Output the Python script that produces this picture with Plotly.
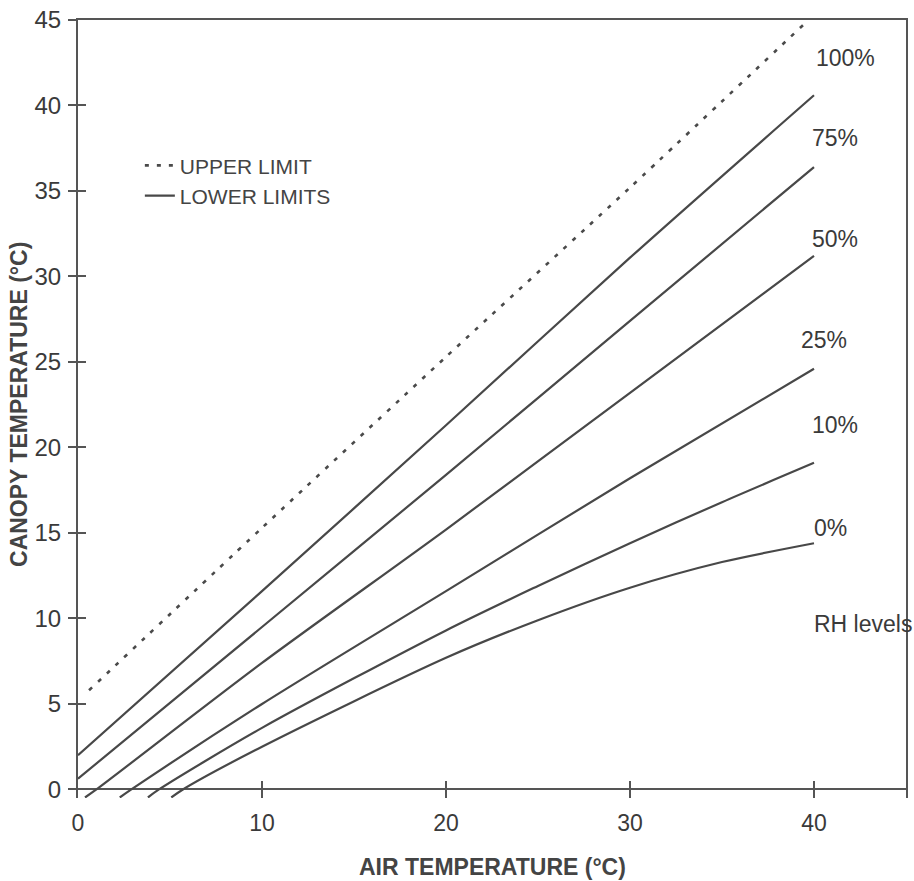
import plotly.graph_objects as go

# ---------------- data ----------------
upper_ta = [0.6, 10, 20, 30, 39.7]
upper_tc = [5.8, 15.3, 25.3, 35.2, 45.0]

ta_rh100 = [0, 10, 20, 30, 40]
tc_rh100 = [2.0, 11.6, 21.3, 31.1, 40.6]

ta_rh75 = [0, 10, 20, 30, 40]
tc_rh75 = [0.63, 9.5, 18.4, 27.4, 36.4]

ta_rh50 = [0.38, 1.0, 10, 20, 30, 40]
tc_rh50 = [-0.47, 0.0, 7.4, 15.2, 23.2, 31.2]

ta_rh25 = [2.27, 2.9, 10, 20, 30, 40]
tc_rh25 = [-0.47, 0.0, 5.0, 11.6, 18.2, 24.6]

ta_rh10 = [3.8, 4.4, 10, 20, 25, 30, 35, 40]
tc_rh10 = [-0.47, 0.0, 3.6, 9.3, 11.9, 14.4, 16.8, 19.1]

ta_rh0 = [5.07, 5.7, 10, 20, 25, 30, 35, 40]
tc_rh0 = [-0.47, 0.0, 2.5, 7.7, 9.9, 11.8, 13.3, 14.4]

rh_labels = ["100%", "75%", "50%", "25%", "10%", "0%", "RH levels"]
x_ticks = [0, 10, 20, 30, 40]
y_ticks = [0, 5, 10, 15, 20, 25, 30, 35, 40, 45]

# label anchor positions (data coordinates), kept apart from the data
label_x = [40.0, 39.8, 39.8, 39.2, 39.8, 39.9, 39.9]
label_y = [42.8, 38.1, 32.2, 26.3, 21.3, 15.3, 9.7]

# ---------------- style ----------------
FONT = "Liberation Sans, Arial, Helvetica, sans-serif"
INK = "#3a3a3a"
LINE = "#484848"
AXIS = "#555555"

fig = go.Figure()

fig.add_trace(go.Scatter(
    x=upper_ta, y=upper_tc, mode="lines", name="UPPER LIMIT",
    legendgroup="upper",
    line=dict(color="#4a4a4a", width=2.6, dash="4px,8px", shape="spline", smoothing=0.6),
))

lower_series = [
    (ta_rh100, tc_rh100), (ta_rh75, tc_rh75), (ta_rh50, tc_rh50),
    (ta_rh25, tc_rh25), (ta_rh10, tc_rh10), (ta_rh0, tc_rh0),
]
for i, (xs, ys) in enumerate(lower_series):
    fig.add_trace(go.Scatter(
        x=xs, y=ys, mode="lines", name="LOWER LIMITS",
        legendgroup="lower", showlegend=(i == 0),
        line=dict(color=LINE, width=2.2, shape="spline", smoothing=0.8),
    ))

# helper trace for the overlay axes (inside tick halves and top frame line)
fig.add_trace(go.Scatter(x=[None], y=[None], xaxis="x2", yaxis="y2",
                         showlegend=False, hoverinfo="skip"))

for txt, lx, ly in zip(rh_labels, label_x, label_y):
    fig.add_annotation(x=lx, y=ly, xref="x", yref="y", text=txt,
                       showarrow=False, xanchor="left", yanchor="middle",
                       font=dict(family=FONT, size=23, color=INK))

fig.add_annotation(text="CANOPY TEMPERATURE (°C)", xref="paper", yref="paper",
                   x=-0.0705, y=0.506, textangle=-90, showarrow=False,
                   xanchor="center", yanchor="middle",
                   font=dict(family=FONT, size=23, color="#444444", weight="bold"))
fig.add_annotation(text="AIR TEMPERATURE (°C)", xref="paper", yref="paper",
                   x=0.5, y=-0.089, showarrow=False,
                   xanchor="center", yanchor="middle",
                   font=dict(family=FONT, size=23, color="#444444", weight="bold"))

fig.update_layout(
    width=914, height=881,
    margin=dict(l=78, r=6, t=20, b=83),
    paper_bgcolor="white", plot_bgcolor="white",
    showlegend=True,
    legend=dict(x=0.0747, y=0.839, xanchor="left", yanchor="top",
                bgcolor="rgba(0,0,0,0)", tracegroupgap=0,
                font=dict(family=FONT, size=21, color="#444444")),
    xaxis=dict(range=[0, 45], tickvals=x_ticks, ticks="inside", ticklen=17,
               tickwidth=1.5, tickcolor=AXIS, showline=False, showgrid=False,
               zeroline=False, ticklabelstandoff=9,
               tickfont=dict(family=FONT, size=23, color=INK)),
    yaxis=dict(range=[-0.5, 45], tickvals=y_ticks, ticks="outside", ticklen=8,
               tickwidth=1.5, tickcolor=AXIS, showline=True, linecolor=AXIS,
               linewidth=2, mirror=True, showgrid=False,
               zeroline=True, zerolinecolor=AXIS, zerolinewidth=2,
               ticklabelstandoff=2,
               tickfont=dict(family=FONT, size=24, color=INK)),
    xaxis2=dict(range=[0, 45], overlaying="x", side="top", anchor="y2",
                showline=True, linecolor=AXIS, linewidth=2, ticks="",
                showticklabels=False, showgrid=False, zeroline=False),
    yaxis2=dict(range=[-0.5, 45], overlaying="y", side="left", anchor="x2",
                tickvals=y_ticks, ticks="inside", ticklen=8, tickwidth=1.5,
                tickcolor=AXIS, showline=False, showticklabels=False,
                showgrid=False, zeroline=False),
)

fig.write_html("out.html")
